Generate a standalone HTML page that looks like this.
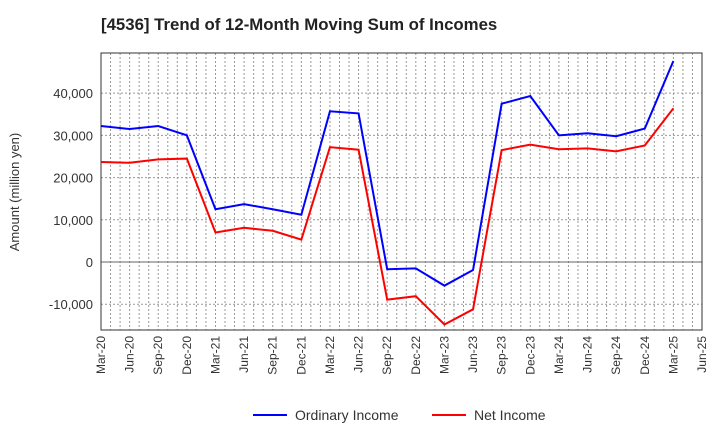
<!DOCTYPE html>
<html><head><meta charset="utf-8"><style>
body{margin:0;background:#fff;font-family:"Liberation Sans",sans-serif;}
</style></head><body>
<svg id="chart" width="720" height="440" xmlns="http://www.w3.org/2000/svg">
<text x="101" y="30" font-size="16.8" font-weight="bold" fill="#222">[4536]  Trend of 12-Month Moving Sum of Incomes</text>
<g id="grid"></g><g id="axes"></g><g id="series"></g>
<text transform="translate(19,192) rotate(-90)" text-anchor="middle" font-size="13" fill="#333">Amount (million yen)</text>
<g>
<line x1="253" y1="415" x2="287" y2="415" stroke="#0000ff" stroke-width="2"/>
<text x="295" y="420" font-size="14" fill="#333">Ordinary Income</text>
<line x1="432" y1="415" x2="466" y2="415" stroke="#ff0000" stroke-width="2"/>
<text x="474" y="420" font-size="14" fill="#333">Net Income</text>
</g>
</svg>
<script>
const categories=["Mar-20","Jun-20","Sep-20","Dec-20","Mar-21","Jun-21","Sep-21","Dec-21","Mar-22","Jun-22","Sep-22","Dec-22","Mar-23","Jun-23","Sep-23","Dec-23","Mar-24","Jun-24","Sep-24","Dec-24","Mar-25","Jun-25"];
const ordinaryIncome=[32200,31500,32200,30000,12500,13700,12500,11200,35700,35200,-1700,-1500,-5600,-1900,37500,39300,30000,30500,29800,31600,47600];
const netIncome=[23700,23500,24300,24500,7000,8100,7400,5300,27200,26600,-8900,-8100,-14800,-11200,26500,27800,26700,26900,26200,27600,36400];
const yTicks=[-10000,0,10000,20000,30000,40000];
const yTickLabels=["-10,000","0","10,000","20,000","30,000","40,000"];
const L=101,R=702,T=53,B=330,yMin=-16100,yMax=49500;
const NS="http://www.w3.org/2000/svg";
function x(i){return L+(R-L)*i/(categories.length-1);}
function y(v){return B-(v-yMin)/(yMax-yMin)*(B-T);}
function mk(tag,attrs,parent){const e=document.createElementNS(NS,tag);for(const k in attrs)e.setAttribute(k,attrs[k]);document.getElementById(parent).appendChild(e);return e;}
const n=(categories.length-1)*3;
for(let m=1;m<n;m++){const xx=L+(R-L)*m/n;const g=mk('line',{x1:xx,x2:xx,y1:T,y2:B,stroke:'#999','stroke-dasharray':'2,2','stroke-width':1},'grid');

}
yTicks.forEach((v,i)=>{const yy=y(v);
const g=mk('line',{x1:L,x2:R,y1:yy,y2:yy,stroke:v===0?'#666':'#999','stroke-dasharray':v===0?'':'2,2','stroke-width':1},'grid');


const t=mk('text',{x:L-8,y:yy+5,'text-anchor':'end','font-size':13,fill:'#333'},'axes');t.textContent=yTickLabels[i];

});
const fr=mk('rect',{x:L,y:T,width:R-L,height:B-T,fill:'none',stroke:'#333','stroke-width':1},'axes');


categories.forEach((c,i)=>{const xx=x(i);const t=mk('text',{transform:`translate(${xx+4},${B+6}) rotate(-90)`,'text-anchor':'end','font-size':12,fill:'#333'},'axes');t.textContent=c;

});
function line(data,color,name){const p=mk('polyline',{points:data.map((v,i)=>x(i)+','+y(v)).join(' '),fill:'none',stroke:color,'stroke-width':2},'series');

}
line(ordinaryIncome,'#0000ff','ordinary-income-line');
line(netIncome,'#ff0000','net-income-line');
</script>
</body></html>
